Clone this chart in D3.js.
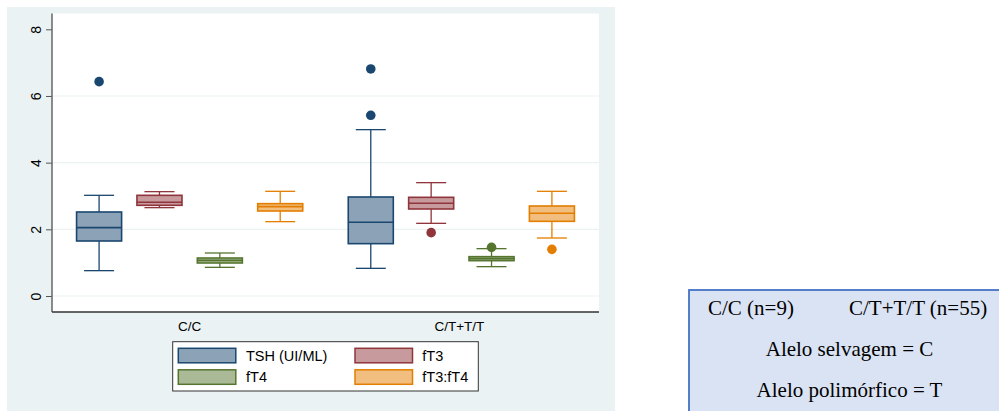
<!DOCTYPE html>
<html>
<head>
<meta charset="utf-8">
<script src="https://cdn.jsdelivr.net/npm/d3@7"></script>
<style>
  html, body { margin: 0; padding: 0; background: #ffffff; }
  svg { display: block; }
</style>
</head>
<body>
<svg id="chart" width="999" height="411"></svg>
<script>
// ---------- data ----------
const categories = ["C/C", "C/T+T/T"];
const seriesNames = ["TSH (UI/ML)", "fT3", "fT4", "fT3:fT4"];
// five-number summaries per category: [lower whisker, Q1, median, Q3, upper whisker]
const tshStats   = [[0.76, 1.65, 2.05, 2.52, 3.02], [0.83, 1.57, 2.21, 2.97, 4.99]];
const ft3Stats   = [[2.65, 2.72, 2.81, 3.02, 3.13], [2.18, 2.61, 2.78, 2.96, 3.40]];
const ft4Stats   = [[0.86, 0.99, 1.07, 1.14, 1.29], [0.88, 1.06, 1.12, 1.18, 1.42]];
const ratioStats = [[2.23, 2.55, 2.68, 2.77, 3.14], [1.74, 2.24, 2.48, 2.70, 3.14]];
// outliers per category
const tshOut   = [[6.43], [6.81, 5.42]];
const ft3Out   = [[], [1.90]];
const ft4Out   = [[], [1.46]];
const ratioOut = [[], [1.40]];
const yTicks = [0, 2, 4, 6, 8];
const gridTicks = [0, 2, 4, 6];
const noteLine1 = ["C/C (n=9)", "C/T+T/T (n=55)"];
const noteLines = ["Alelo selvagem = C", "Alelo polimórfico = T"];

// ---------- styles ----------
const lineColors = ["#1a476f", "#90353b", "#55752f", "#e37e00"];
const fillColors = ["#8ca3b7", "#c79a9d", "#aaba97", "#f1be7f"];
const statsBySeries = [tshStats, ft3Stats, ft4Stats, ratioStats];
const outBySeries = [tshOut, ft3Out, ft4Out, ratioOut];

const svg = d3.select("#chart");
const sans = "'Liberation Sans', Arial, Helvetica, sans-serif";
const serif = "'Liberation Serif', 'Times New Roman', serif";

// outer graph region
svg.append("rect").attr("x", 7).attr("y", 7).attr("width", 608).attr("height", 404)
  .attr("fill", "#eaf2f3");

const P = { left: 52, right: 599, top: 13.5, bottom: 312 };
svg.append("rect").attr("x", P.left).attr("y", P.top)
  .attr("width", P.right - P.left).attr("height", P.bottom - P.top).attr("fill", "#ffffff");

// scales
const slotGap = 4.5; // slot offset between categories
const x = d3.scaleLinear().domain([-0.78, 3 + slotGap + 0.78]).range([P.left, P.right]);
const y = d3.scaleLinear().domain([0, 8]).range([296, 29.3]);
const boxW = x(0.746) - x(0);
const capW = boxW * 2 / 3;

// gridlines
svg.append("g").selectAll("line").data(gridTicks).join("line")
  .attr("x1", P.left).attr("x2", P.right)
  .attr("y1", d => y(d)).attr("y2", d => y(d))
  .attr("stroke", "#eaf2f3").attr("stroke-width", 1.2);

// y axis
const yAxis = d3.axisLeft(y).tickValues(yTicks).tickSize(6).tickPadding(0).tickFormat(d3.format("d"));
const gy = svg.append("g").attr("transform", `translate(${P.left},0)`).call(yAxis);
gy.select(".domain").remove();
gy.selectAll(".tick line").attr("stroke", "#555").attr("stroke-width", 1);
gy.selectAll(".tick text")
  .attr("x", 0).attr("dy", 0)
  .attr("transform", "translate(-11.5,0) rotate(-90)")
  .attr("text-anchor", "middle")
  .attr("font-family", sans).attr("font-size", 14).attr("fill", "#000");
svg.append("line").attr("x1", P.left).attr("x2", P.left).attr("y1", P.top).attr("y2", P.bottom)
  .attr("stroke", "#666").attr("stroke-width", 1.5);

// x axis line
svg.append("line").attr("x1", P.left).attr("x2", P.right).attr("y1", P.bottom).attr("y2", P.bottom)
  .attr("stroke", "#333").attr("stroke-width", 1.4);

// category labels
const catCenter = gi => x(gi * slotGap + 1.5);
svg.append("g").selectAll("text").data(categories).join("text")
  .attr("x", (d, i) => catCenter(i) - i * 2).attr("y", 330.5)
  .attr("text-anchor", "middle")
  .attr("font-family", sans).attr("font-size", 13.5).attr("fill", "#000")
  .text(d => d);

// boxes
const boxes = [];
statsBySeries.forEach((st, si) => {
  st.forEach((s, gi) => {
    boxes.push({ si, gi, s, out: outBySeries[si][gi], cx: x(gi * slotGap + si) });
  });
});

const gb = svg.append("g");
boxes.forEach(b => {
  const g = gb.append("g");
  const col = lineColors[b.si];
  // whiskers
  g.append("line").attr("x1", b.cx).attr("x2", b.cx).attr("y1", y(b.s[3])).attr("y2", y(b.s[4]))
    .attr("stroke", col).attr("stroke-width", 1.3);
  g.append("line").attr("x1", b.cx).attr("x2", b.cx).attr("y1", y(b.s[1])).attr("y2", y(b.s[0]))
    .attr("stroke", col).attr("stroke-width", 1.3);
  // caps
  [b.s[0], b.s[4]].forEach(v => {
    g.append("line").attr("x1", b.cx - capW / 2).attr("x2", b.cx + capW / 2)
      .attr("y1", y(v)).attr("y2", y(v)).attr("stroke", col).attr("stroke-width", 1.3);
  });
  // box
  g.append("rect").attr("x", b.cx - boxW / 2).attr("width", boxW)
    .attr("y", y(b.s[3])).attr("height", y(b.s[1]) - y(b.s[3]))
    .attr("fill", fillColors[b.si]).attr("stroke", col).attr("stroke-width", 1.6);
  // median
  g.append("line").attr("x1", b.cx - boxW / 2).attr("x2", b.cx + boxW / 2)
    .attr("y1", y(b.s[2])).attr("y2", y(b.s[2])).attr("stroke", col).attr("stroke-width", 1.6);
  // outliers
  g.selectAll("circle").data(b.out).join("circle")
    .attr("cx", b.cx).attr("cy", v => y(v)).attr("r", 4.8).attr("fill", col);
});

// legend
const L = { x: 172.7, y: 341.7, w: 305.6, h: 49.3 };
svg.append("rect").attr("x", L.x).attr("y", L.y).attr("width", L.w).attr("height", L.h)
  .attr("fill", "#ffffff").attr("stroke", "#333").attr("stroke-width", 1);
const legCols = [178.3, 355];
const legRows = [348.3, 369.8];
const legTextX = [246, 422.3];
seriesNames.forEach((name, i) => {
  const c = i % 2, r = Math.floor(i / 2);
  svg.append("rect").attr("x", legCols[c]).attr("y", legRows[r]).attr("width", 57.5).attr("height", 14.5)
    .attr("fill", fillColors[i]).attr("stroke", lineColors[i]).attr("stroke-width", 1.5);
  svg.append("text").attr("x", legTextX[c]).attr("y", legRows[r] + 12.5)
    .attr("font-family", sans).attr("font-size", 14.5).attr("fill", "#000").text(name);
});

// note box on the right
svg.append("rect").attr("x", 689).attr("y", 290).attr("width", 320).attr("height", 130)
  .attr("fill", "#dae3f3").attr("stroke", "#4472c4").attr("stroke-width", 1.8);
svg.append("text").attr("x", 708).attr("y", 315).attr("font-family", serif).attr("font-size", 21)
  .attr("fill", "#000").text(noteLine1[0]);
svg.append("text").attr("x", 849).attr("y", 315).attr("font-family", serif).attr("font-size", 21)
  .attr("fill", "#000").text(noteLine1[1]);
svg.append("g").selectAll("text").data(noteLines).join("text")
  .attr("x", 849.5).attr("y", (d, i) => 356 + i * 40.7)
  .attr("text-anchor", "middle")
  .attr("font-family", serif).attr("font-size", 21).attr("fill", "#000").text(d => d);
</script>
</body>
</html>
